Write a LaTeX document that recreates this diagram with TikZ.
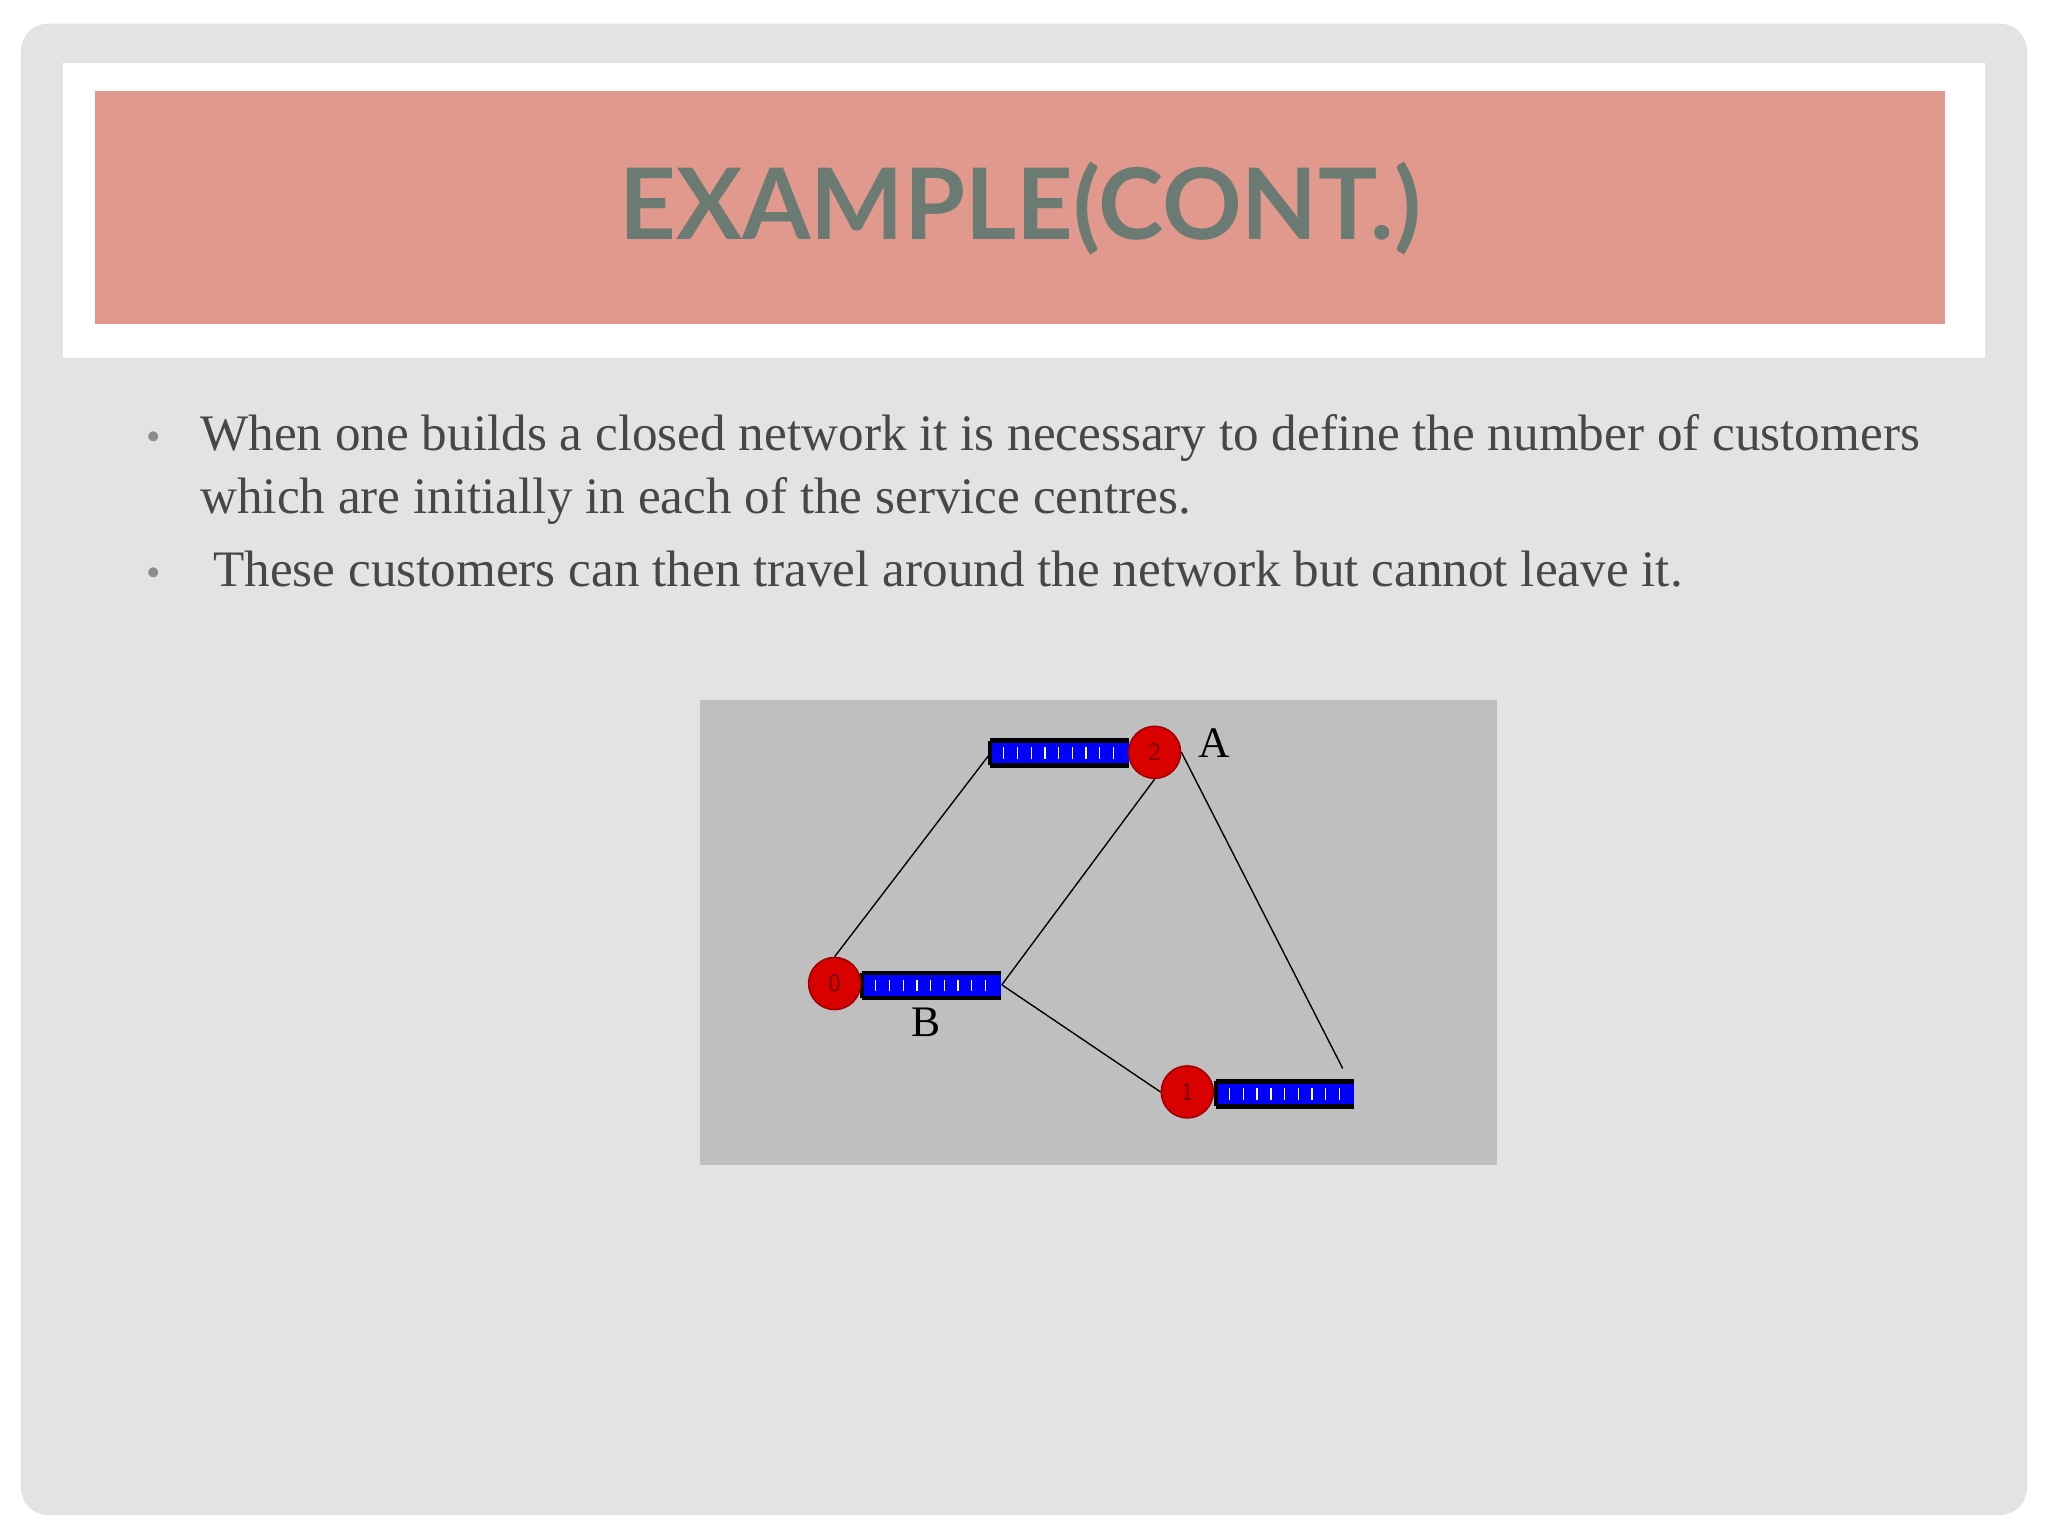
\documentclass[tikz,border=0pt]{standalone}
\usepackage{fontspec}
\setmainfont{Liberation Serif}
\newfontfamily\titlefont{Lato}
\begin{document}
\begin{tikzpicture}[x=0.02cm,y=-0.02cm,
  srv/.style={circle,fill=red!85!black,draw=red!60!black,inner sep=0pt,line width=0.6pt,font=\fontsize{11}{11}\selectfont\sffamily,text=red!45!black},
  lnk/.style={line width=0.6pt,black},
  body/.style={anchor=base west,inner sep=0pt,text=black!72,font=\fontsize{22.3}{23}\selectfont},
  bul/.style={anchor=base west,inner sep=0pt,text=black!45,font=\fontsize{18}{18}\selectfont}]
\useasboundingbox (0,0) rectangle (1568,1176);
\fill[white] (0,0) rectangle (1568,1176);
\fill[gray!22,rounded corners=12] (16,18) rectangle (1552,1160);
\fill[white] (48,48) rectangle (1520,274);
\fill[fill={rgb,255:red,224;green,153;blue,140}] (73,70) rectangle (1489,248);
\node[text={rgb,255:red,107;green,123;blue,116},font=\titlefont\bfseries\fontsize{43}{43}\selectfont] (title) at (781,160) {EXAMPLE(CONT.)};
\node[bul] (b1) at (112,345) {•};
\node[body] (t1) at (153,345) {When one builds a closed network it is necessary to define the number of customers};
\node[body] (t2) at (153,393) {which are initially in each of the service centres.};
\node[bul] (b2) at (112,449) {•};
\node[body] (t3) at (163,449) {These customers can then travel around the network but cannot leave it.};
% diagram
\fill[gray!50] (536,536) rectangle (1146,892);
\foreach \n/\x/\y in {qa/758/567,qb/660/745,qc/931/828}{
  \fill[blue] (\x,\y) rectangle ++(106,19);
  \draw[black,line width=2pt] (\x,\y) -- ++(106,0) (\x,\y+19) -- ++(106,0);
  \draw[black,line width=1.5pt] (\x,\y) -- ++(0,19);
  \foreach \i in {1,...,9} \draw[white,line width=0.6pt] (\x+\i*10.5,\y+5) -- ++(0,9);
  \coordinate (\n) at (\x,\y);
}
\node[srv,minimum size=40*0.02cm] (s2) at (884,576) {2};
\node[srv,minimum size=40*0.02cm] (s0) at (639,753) {0};
\node[srv,minimum size=40*0.02cm] (s1) at (909,836) {1};
\node[font=\fontsize{19}{19}\selectfont] (la) at (930,569) {A};
\node[font=\fontsize{19}{19}\selectfont] (lb) at (709,783) {B};
\coordinate (qaL) at (758,577);
\coordinate (qbR) at (767,754);
\coordinate (free) at (1028,818);
\draw[lnk] (qaL) -- (s0.north);
\draw[lnk] (s2.south) -- (qbR);
\draw[lnk] (qbR) -- (s1.west);
\draw[lnk] (s2.east) -- (free);
\end{tikzpicture}
\end{document}
